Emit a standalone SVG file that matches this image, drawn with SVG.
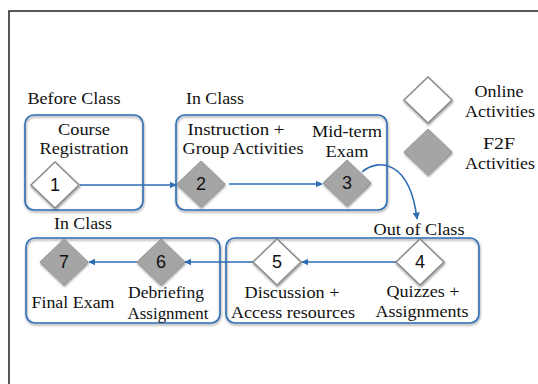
<svg xmlns="http://www.w3.org/2000/svg" width="538" height="384" viewBox="0 0 538 384">
<defs>
<style>
.t{font-family:"Liberation Serif","Times New Roman",serif;font-size:17px;fill:#111;text-anchor:middle}
.n{font-family:"Liberation Sans",Arial,sans-serif;font-size:18px;fill:#111;text-anchor:middle}
.box{fill:none;stroke:#2e6db4;stroke-width:1.6}
.on{fill:#fff;stroke:#8a8a8a;stroke-width:1.5}
.f2f{fill:#a5a5a5;stroke:#959595;stroke-width:1}
.c{fill:none;stroke:#2e6db4;stroke-width:1.6}
</style>
<filter id="sh" x="-10%" y="-10%" width="120%" height="130%">
<feDropShadow dx="0.5" dy="1.5" stdDeviation="1" flood-color="#000" flood-opacity="0.45"/>
</filter>
<marker id="ah" viewBox="0 0 10 10" refX="9" refY="5" markerWidth="4.5" markerHeight="4.5" orient="auto">
<path d="M0,0 L10,5 L0,10 z" fill="#2e6db4"/>
</marker>
</defs>
<rect width="538" height="384" fill="#fff"/>
<path d="M9,384 V11 H538" fill="none" stroke="#222" stroke-width="1.5"/>

<g id="frame-before">
<rect class="box" x="25" y="115" width="118" height="95" rx="9" filter="url(#sh)"/>
<text class="t" x="74" y="104" textLength="93" lengthAdjust="spacingAndGlyphs">Before Class</text>
</g>
<g id="frame-inclass-top">
<rect class="box" x="176" y="115" width="211" height="95" rx="9" filter="url(#sh)"/>
<text class="t" x="215" y="104" textLength="58" lengthAdjust="spacingAndGlyphs">In Class</text>
</g>
<g id="frame-inclass-bottom">
<rect class="box" x="26" y="238" width="194" height="85" rx="9" filter="url(#sh)"/>
<text class="t" x="83" y="229" textLength="58" lengthAdjust="spacingAndGlyphs">In Class</text>
</g>
<g id="frame-outclass">
<rect class="box" x="226" y="238" width="253" height="85" rx="9" filter="url(#sh)"/>
<text class="t" x="419" y="235" textLength="91" lengthAdjust="spacingAndGlyphs">Out of Class</text>
</g>

<g id="connectors">
<line class="c" x1="80" y1="185" x2="176" y2="185" marker-end="url(#ah)"/>
<line class="c" x1="229" y1="184" x2="322" y2="184" marker-end="url(#ah)"/>
<path class="c" d="M362,172 C378,158 410,160 417,219" marker-end="url(#ah)"/>
<line class="c" x1="396" y1="262" x2="302" y2="262" marker-end="url(#ah)"/>
<line class="c" x1="253" y1="262" x2="185" y2="262" marker-end="url(#ah)"/>
<line class="c" x1="137" y1="262" x2="89" y2="262" marker-end="url(#ah)"/>
</g>

<g id="node1">
<polygon class="on" points="31,185 55,162 79,185 55,208" filter="url(#sh)"/>
<text class="n" x="55" y="191">1</text>
<text class="t" x="84" y="135" textLength="52" lengthAdjust="spacingAndGlyphs">Course</text>
<text class="t" x="84" y="154" textLength="89" lengthAdjust="spacingAndGlyphs">Registration</text>
</g>
<g id="node2">
<polygon class="f2f" points="177,184 201,161 225,184 201,207" filter="url(#sh)"/>
<text class="n" x="201" y="190">2</text>
<text class="t" x="236" y="135" textLength="97" lengthAdjust="spacingAndGlyphs">Instruction +</text>
<text class="t" x="243" y="154" textLength="121" lengthAdjust="spacingAndGlyphs">Group Activities</text>
</g>
<g id="node3">
<polygon class="f2f" points="323,183 347,160 371,183 347,206" filter="url(#sh)"/>
<text class="n" x="347" y="189">3</text>
<text class="t" x="347" y="137" textLength="70" lengthAdjust="spacingAndGlyphs">Mid-term</text>
<text class="t" x="347" y="157" textLength="43" lengthAdjust="spacingAndGlyphs">Exam</text>
</g>
<g id="node4">
<polygon class="on" points="396,262 420,239 444,262 420,285" filter="url(#sh)"/>
<text class="n" x="420" y="268">4</text>
<text class="t" x="423" y="297" textLength="73" lengthAdjust="spacingAndGlyphs">Quizzes +</text>
<text class="t" x="422" y="317" textLength="93" lengthAdjust="spacingAndGlyphs">Assignments</text>
</g>
<g id="node5">
<polygon class="on" points="253,262 277,239 301,262 277,285" filter="url(#sh)"/>
<text class="n" x="277" y="268">5</text>
<text class="t" x="292" y="298" textLength="95" lengthAdjust="spacingAndGlyphs">Discussion +</text>
<text class="t" x="293" y="318" textLength="124" lengthAdjust="spacingAndGlyphs">Access resources</text>
</g>
<g id="node6">
<polygon class="f2f" points="137,262 161,239 185,262 161,285" filter="url(#sh)"/>
<text class="n" x="161" y="268">6</text>
<text class="t" x="166" y="298" textLength="76" lengthAdjust="spacingAndGlyphs">Debriefing</text>
<text class="t" x="168" y="319" textLength="81" lengthAdjust="spacingAndGlyphs">Assignment</text>
</g>
<g id="node7">
<polygon class="f2f" points="40,262 64,239 88,262 64,285" filter="url(#sh)"/>
<text class="n" x="64" y="268">7</text>
<text class="t" x="73" y="308" textLength="83" lengthAdjust="spacingAndGlyphs">Final Exam</text>
</g>

<g id="legend-online">
<polygon class="on" points="404,100 428,77 452,100 428,123" filter="url(#sh)"/>
<text class="t" x="499" y="97" textLength="49" lengthAdjust="spacingAndGlyphs">Online</text>
<text class="t" x="500" y="117" textLength="70" lengthAdjust="spacingAndGlyphs">Activities</text>
</g>
<g id="legend-f2f">
<polygon class="f2f" points="404,152 428,129 452,152 428,175" filter="url(#sh)"/>
<text class="t" x="499" y="149" textLength="32" lengthAdjust="spacingAndGlyphs">F2F</text>
<text class="t" x="500" y="169" textLength="70" lengthAdjust="spacingAndGlyphs">Activities</text>
</g>
</svg>
